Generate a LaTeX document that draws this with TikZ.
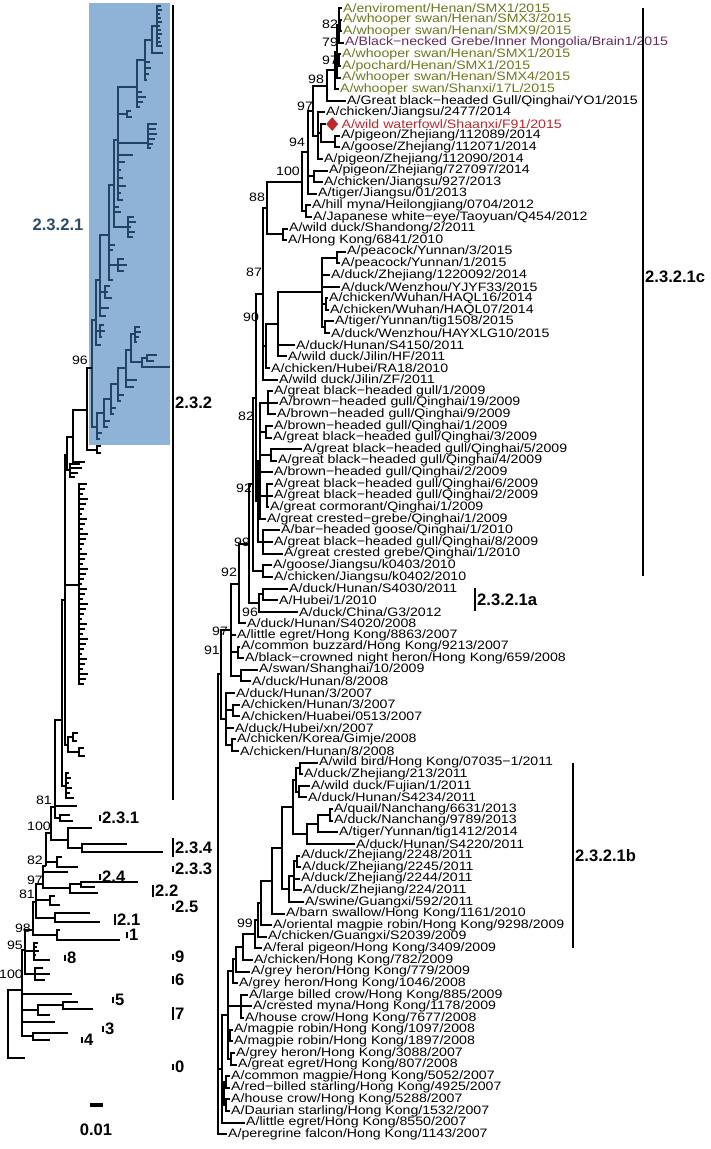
\documentclass[tikz,border=0pt]{standalone}
\usepackage{fontspec}
\setmainfont{Liberation Sans}
\newfontfamily\leaffam[FakeStretch=1.16]{Liberation Sans}
\usepackage{tikz}
\usetikzlibrary{calc,shapes.geometric}
\definecolor{tipGreen}{HTML}{6A7A1E}
\definecolor{tipPurple}{HTML}{6B2A5E}
\definecolor{tipRed}{HTML}{C0272D}
\definecolor{boxBlue}{HTML}{8FB3D6}
\definecolor{boxInk}{HTML}{234363}
\definecolor{labBlue}{HTML}{2B4C6C}
\newcommand\leaffnt{\leaffam\fontsize{12.2}{13}\selectfont}
\newcommand\bsfnt{\leaffam\fontsize{12.2}{13}\selectfont}
\newcommand\clfnt{\fontsize{16.6}{18}\selectfont\bfseries}
\tikzset{
  % branch
  br/.style={line width=2pt,black},
  bb/.style={boxInk},
  % tip labels
  lab/.style={anchor=west,inner sep=0pt,font=\leaffnt},
  gtip/.style={text=tipGreen},
  ptip/.style={text=tipPurple},
  rtip/.style={text=tipRed},
  % bootstrap values
  bs/.style={inner sep=0pt,font=\bsfnt},
  % clade bars and names
  clbar/.style={line width=1.8pt},
  cl/.style={anchor=west,inner sep=2pt,font=\clfnt},
  dia/.style={diamond,fill=tipRed,inner sep=0pt,minimum width=12pt,minimum height=14pt},
}
% leaf: name, tip x, row, text
\newcommand\leaf[5][]{%
  \coordinate (#2) at (#3,{8+(#4-1)*11.61});
  \node[lab,#1] (#2t) at ([xshift=1pt]#2) {#5};}
% clade at the middle of two children
\newcommand\clade[6][]{%
  \coordinate (#2m) at ($(#4)!0.5!(#5)$);
  \coordinate (#2) at (#3,0 |- #2m);
  \foreach \ch in {#6}{\draw[br,#1] (#2) |- (\ch);}}
% clade at a given point
\newcommand\lclade[5][]{%
  \coordinate (#2) at (#3,#4);
  \foreach \ch in {#5}{\draw[br,#1] (#2) |- (\ch);}}
% clade bar with its name
\newcommand\cmark[6][]{%
  \coordinate (#2a) at (#3,#4); \coordinate (#2b) at (#3,#5);
  \draw[clbar,#1] (#2a) -- (#2b);
  \node[cl] (#2) at ($(#2a)!0.5!(#2b)$) {#6};}

\begin{document}
\begin{tikzpicture}[x=1pt,y=-1pt]
\useasboundingbox (0,0) rectangle (710,1149);
\fill[boxBlue] (89,3) rectangle (170,445);

% ---------- right tree, tips
\leaf[gtip]{r1}{342}{1}{A/enviroment/Henan/SMX1/2015}
\leaf[gtip]{r2}{342}{2}{A/whooper swan/Henan/SMX3/2015}
\leaf[gtip]{r3}{342}{3}{A/whooper swan/Henan/SMX9/2015}
\leaf[ptip]{r4}{344}{4}{A/Black−necked Grebe/Inner Mongolia/Brain1/2015}
\leaf[gtip]{r5}{341}{5}{A/whooper swan/Henan/SMX1/2015}
\leaf[gtip]{r6}{341}{6}{A/pochard/Henan/SMX1/2015}
\leaf[gtip]{r7}{341}{7}{A/whooper swan/Henan/SMX4/2015}
\leaf[gtip]{r8}{339}{8}{A/whooper swan/Shanxi/17L/2015}
\leaf{r9}{346}{9}{A/Great black−headed Gull/Qinghai/YO1/2015}
\leaf{r10}{325}{10}{A/chicken/Jiangsu/2477/2014}
\coordinate (r11) at (326,{8+10*11.61});
\node[dia,anchor=west] (r11d) at (r11) {};
\node[lab,rtip] (r11t) at ([xshift=3pt]r11d.east) {A/wild waterfowl/Shaanxi/F91/2015};
\leaf{r12}{340}{12}{A/pigeon/Zhejiang/112089/2014}
\leaf{r13}{340}{13}{A/goose/Zhejiang/112071/2014}
\leaf{r14}{323}{14}{A/pigeon/Zhejiang/112090/2014}
\leaf{r15}{328}{15}{A/pigeon/Zhejiang/727097/2014}
\leaf{r16}{323}{16}{A/chicken/Jiangsu/927/2013}
\leaf{r17}{317}{17}{A/tiger/Jiangsu/01/2013}
\leaf{r18}{311}{18}{A/hill myna/Heilongjiang/0704/2012}
\leaf{r19}{312}{19}{A/Japanese white−eye/Taoyuan/Q454/2012}
\leaf{r20}{288}{20}{A/wild duck/Shandong/2/2011}
\leaf{r21}{287}{21}{A/Hong Kong/6841/2010}
\leaf{r22}{346}{22}{A/peacock/Yunnan/3/2015}
\leaf{r23}{340}{23}{A/peacock/Yunnan/1/2015}
\leaf{r24}{330}{24}{A/duck/Zhejiang/1220092/2014}
\leaf{r25}{340}{25}{A/duck/Wenzhou/YJYF33/2015}
\leaf{r26}{328}{26}{A/chicken/Wuhan/HAQL16/2014}
\leaf{r27}{329}{27}{A/chicken/Wuhan/HAQL07/2014}
\leaf{r28}{334}{28}{A/tiger/Yunnan/tig1508/2015}
\leaf{r29}{330}{29}{A/duck/Wenzhou/HAYXLG10/2015}
\leaf{r30}{295}{30}{A/duck/Hunan/S4150/2011}
\leaf{r31}{287}{31}{A/wild duck/Jilin/HF/2011}
\leaf{r32}{270}{32}{A/chicken/Hubei/RA18/2010}
\leaf{r33}{278}{33}{A/wild duck/Jilin/ZF/2011}
\leaf{r34}{273}{34}{A/great black−headed gull/1/2009}
\leaf{r35}{278}{35}{A/brown−headed gull/Qinghai/19/2009}
\leaf{r36}{276}{36}{A/brown−headed gull/Qinghai/9/2009}
\leaf{r37}{273}{37}{A/brown−headed gull/Qinghai/1/2009}
\leaf{r38}{272}{38}{A/great black−headed gull/Qinghai/3/2009}
\leaf{r39}{302}{39}{A/great black−headed gull/Qinghai/5/2009}
\leaf{r40}{277}{40}{A/great black−headed gull/Qinghai/4/2009}
\leaf{r41}{273}{41}{A/brown−headed gull/Qinghai/2/2009}
\leaf{r42}{273}{42}{A/great black−headed gull/Qinghai/6/2009}
\leaf{r43}{273}{43}{A/great black−headed gull/Qinghai/2/2009}
\leaf{r44}{269}{44}{A/great cormorant/Qinghai/1/2009}
\leaf{r45}{266}{45}{A/great crested−grebe/Qinghai/1/2009}
\leaf{r46}{280}{46}{A/bar−headed goose/Qinghai/1/2010}
\leaf{r47}{273}{47}{A/great black−headed gull/Qinghai/8/2009}
\leaf{r48}{283}{48}{A/great crested grebe/Qinghai/1/2010}
\leaf{r49}{272}{49}{A/goose/Jiangsu/k0403/2010}
\leaf{r50}{273}{50}{A/chicken/Jiangsu/k0402/2010}
\leaf{r51}{288}{51}{A/duck/Hunan/S4030/2011}
\leaf{r52}{278}{52}{A/Hubei/1/2010}
\leaf{r53}{298}{53}{A/duck/China/G3/2012}
\leaf{r54}{246}{54}{A/duck/Hunan/S4020/2008}
\leaf{r55}{236}{55}{A/little egret/Hong Kong/8863/2007}
\leaf{r56}{240}{56}{A/common buzzard/Hong Kong/9213/2007}
\leaf{r57}{244}{57}{A/black−crowned night heron/Hong Kong/659/2008}
\leaf{r58}{258}{58}{A/swan/Shanghai/10/2009}
\leaf{r59}{251}{59}{A/duck/Hunan/8/2008}
\leaf{r60}{235}{60}{A/duck/Hunan/3/2007}
\leaf{r61}{240}{61}{A/chicken/Hunan/3/2007}
\leaf{r62}{240}{62}{A/chicken/Huabei/0513/2007}
\leaf{r63}{234}{63}{A/duck/Hubei/xn/2007}
\leaf{r64}{236}{64}{A/chicken/Korea/Gimje/2008}
\leaf{r65}{239}{65}{A/chicken/Hunan/8/2008}
\leaf{r66}{318}{66}{A/wild bird/Hong Kong/07035−1/2011}
\leaf{r67}{303}{67}{A/duck/Zhejiang/213/2011}
\leaf{r68}{310}{68}{A/wild duck/Fujian/1/2011}
\leaf{r69}{307}{69}{A/duck/Hunan/S4234/2011}
\leaf{r70}{333}{70}{A/quail/Nanchang/6631/2013}
\leaf{r71}{333}{71}{A/duck/Nanchang/9789/2013}
\leaf{r72}{338}{72}{A/tiger/Yunnan/tig1412/2014}
\leaf{r73}{355}{73}{A/duck/Hunan/S4220/2011}
\leaf{r74}{300}{74}{A/duck/Zhejiang/2248/2011}
\leaf{r75}{301}{75}{A/duck/Zhejiang/2245/2011}
\leaf{r76}{300}{76}{A/duck/Zhejiang/2244/2011}
\leaf{r77}{302}{77}{A/duck/Zhejiang/224/2011}
\leaf{r78}{304}{78}{A/swine/Guangxi/592/2011}
\leaf{r79}{285}{79}{A/barn swallow/Hong Kong/1161/2010}
\leaf{r80}{272}{80}{A/oriental magpie robin/Hong Kong/9298/2009}
\leaf{r81}{267}{81}{A/chicken/Guangxi/S2039/2009}
\leaf{r82}{262}{82}{A/feral pigeon/Hong Kong/3409/2009}
\leaf{r83}{253}{83}{A/chicken/Hong Kong/782/2009}
\leaf{r84}{250}{84}{A/grey heron/Hong Kong/779/2009}
\leaf{r85}{238}{85}{A/grey heron/Hong Kong/1046/2008}
\leaf{r86}{248}{86}{A/large billed crow/Hong Kong/885/2009}
\leaf{r87}{252}{87}{A/crested myna/Hong Kong/1178/2009}
\leaf{r88}{244}{88}{A/house crow/Hong Kong/7677/2008}
\leaf{r89}{233}{89}{A/magpie robin/Hong Kong/1097/2008}
\leaf{r90}{233}{90}{A/magpie robin/Hong Kong/1897/2008}
\leaf{r91}{235}{91}{A/grey heron/Hong Kong/3088/2007}
\leaf{r92}{237}{92}{A/great egret/Hong Kong/807/2008}
\leaf{r93}{230}{93}{A/common magpie/Hong Kong/5052/2007}
\leaf{r94}{230}{94}{A/red−billed starling/Hong Kong/4925/2007}
\leaf{r95}{230}{95}{A/house crow/Hong Kong/5288/2007}
\leaf{r96}{230}{96}{A/Daurian starling/Hong Kong/1532/2007}
\leaf{r97}{245}{97}{A/little egret/Hong Kong/8550/2007}
\leaf{r98}{227}{98}{A/peregrine falcon/Hong Kong/1143/2007}

% ---------- right tree, clades
\clade{g82}{340}{r2}{r3}{r2,r3}
\clade{g79}{339}{r1}{r4}{r1,g82,r4}
\clade{g97}{339}{r5}{r6}{r5,r6}
\clade{gx}{337}{g79}{r7}{g79,g97,r7}
\clade{gr}{335}{gx}{r8}{gx,r8}
\clade{n98}{327}{gr}{r9}{gr,r9}
\clade{npp}{335}{r12}{r13}{r12,r13}
\clade{nw}{321}{r11}{npp}{r11,npp}
\clade{nch}{318}{r10}{r14}{r10,nw,r14}
\clade{n97}{313}{n98}{nch}{n98,nch}
\clade{npz}{314}{r15}{r16}{r15,r16}
\clade{n94}{308}{n97}{r17}{n97,npz,r17}
\clade{nhl}{306}{r18}{r19}{r18,r19}
\clade{n100}{302}{n94}{nhl}{n94,nhl}
\clade{nwd}{283}{r20}{r21}{r20,r21}
\clade{n88}{267}{n100}{nwd}{n100,nwd}
\clade{npe}{337}{r22}{r23}{r22,r23}
\clade{nhq}{326}{r26}{r27}{r26,r27}
\clade{ntg}{325}{r28}{r29}{r28,r29}
\clade{nyn}{322}{npe}{ntg}{npe,r24,r25,nhq,ntg}
\clade{np1}{278}{nyn}{r31}{nyn,r30,r31}
\clade{n90}{266}{np1}{r32}{np1,r32}
\clade{n87}{263}{n88}{r33}{n88,n90,r33}
\clade{nqa}{268}{r34}{r36}{r34,r35,r36}
\clade{nqb}{266}{r37}{r38}{r37,r38}
\clade{nqc}{271}{r39}{r40}{r39,r40}
\clade{nqd}{267}{r42}{r44}{r42,r43,r44}
\clade{nq}{260}{nqa}{r45}{nqa,nqb,nqc,r41,nqd,r45}
\clade{nqe}{263}{r46}{r48}{r46,r47,r48}
\clade{n92a}{258}{nq}{nqe}{nq,nqe}
\clade{n82}{256}{n87}{n92a}{n87,n92a}
\clade{njk}{263}{r49}{r50}{r49,r50}
\clade{n99}{253}{n82}{njk}{n82,njk}
\clade{na1}{263}{r51}{r52}{r51,r52}
\clade{n96}{259}{na1}{r53}{na1,r53}
\clade{nx}{249}{n99}{n96}{n99,n96}
\clade{n92b}{239}{nx}{r54}{nx,r54}
\clade{ncb}{238}{r56}{r57}{r56,r57}
\clade{nsw}{241}{r58}{r59}{r58,r59}
\clade{n97b}{231}{n92b}{nsw}{n92b,r55,ncb,nsw}
\clade{nh2}{233}{r61}{r62}{r61,r62}
\clade{nh3}{232}{r64}{r65}{r64,r65}
\clade{nhn}{226}{r60}{nh3}{r60,nh2,r63,nh3}
\clade{n91}{221}{n97b}{nhn}{n97b,nhn}
\clade{nwb}{300}{r66}{r67}{r66,r67}
\clade{nfj}{299}{r68}{r69}{r68,r69}
\clade{nz1}{296}{nwb}{nfj}{nwb,nfj}
\clade{nnc}{330}{r70}{r71}{r70,r71}
\clade{ntk}{318}{nnc}{r72}{nnc,r72}
\clade{nhs}{307}{ntk}{r73}{ntk,r73}
\clade{nz2}{293}{nz1}{nhs}{nz1,nhs}
\clade{nj1}{297}{r74}{r75}{r74,r75}
\clade{nj2}{294}{nj1}{r77}{nj1,r76,r77}
\clade{nj}{289}{nj2}{r78}{nj2,r78}
\clade{nb1}{282}{nz2}{nj}{nz2,nj}
\clade{nb2}{272}{nb1}{r79}{nb1,r79}
\clade{nb3}{261}{nb2}{r80}{nb2,r80}
\clade{nb4}{258}{nb3}{r81}{nb3,r81}
\clade{nb5}{255}{nb4}{r82}{nb4,r82}
\clade{nb6}{243}{nb5}{r83}{nb5,r83}
\clade{nka}{236}{nb6}{r84}{nb6,r84}
\clade{nkb}{233}{nka}{r85}{nka,r85}
\clade{ncr}{241}{r86}{r88}{r86,r87,r88}
\clade{nmr}{230}{r89}{r90}{r89,r90}
\clade{nge}{231}{r91}{r92}{r91,r92}
\clade{ns1}{226}{r93}{r94}{r93,r94}
\clade{ns2}{226}{r95}{r96}{r95,r96}
\clade{nst}{224}{ns1}{ns2}{ns1,ns2}
\clade{nhk}{228}{nkb}{nge}{nkb,ncr,nmr,nge}
\clade{nlo}{222}{nhk}{r97}{nhk,nst,r97}
\clade{nrt}{218}{n91}{r98}{n91,nlo,r98}

% bootstrap values, right tree
\node[bs] (s1) at (330,24) {82};
\node[bs] (s2) at (330,42) {79};
\node[bs] (s3) at (330,60) {97};
\node[bs] (s4) at (316,79) {98};
\node[bs] (s5) at (305,106) {97};
\node[bs] (s6) at (297,142) {94};
\node[bs] (s7) at (288,171) {100};
\node[bs] (s8) at (257,197) {88};
\node[bs] (s9) at (254,272) {87};
\node[bs] (s10) at (251,317) {90};
\node[bs] (s11) at (246,416) {82};
\node[bs] (s12) at (244,488) {92};
\node[bs] (s13) at (242,542) {99};
\node[bs] (s14) at (229,572) {92};
\node[bs] (s15) at (250,612) {96};
\node[bs] (s16) at (220,631) {97};
\node[bs] (s17) at (212,650) {91};
\node[bs] (s18) at (245,923) {99};

% clade bars, right tree
\coordinate (mca) at (643,8); \coordinate (mcb) at (643,576);
\draw[clbar] (mca) -- (mcb);
\node[cl] (mc) at (643,277) {2.3.2.1c};
\cmark{ma}{475}{588}{611}{2.3.2.1a}
\cmark{mb}{573}{763}{948}{2.3.2.1b}

% ---------- left tree, 2.3.2.1 in the box
\coordinate (ua) at (157,26);
\foreach \yy [count=\k] in {6,10,...,46} {
  \coordinate (ut\k) at ({160+mod(\k,3)},\yy);
  \draw[br,bb] (ua) |- (ut\k);}
\coordinate (ub1) at (163,53);
\lclade[bb]{ub}{152}{40}{ua,ub1}
\coordinate (uc1) at (150,62); \coordinate (uc2) at (151,68);
\coordinate (uc3) at (149,74); \coordinate (uc4) at (147,80);
\lclade[bb]{uc}{145}{60}{ub,uc1,uc2,uc3,uc4}
\coordinate (ud1) at (142,92); \coordinate (ud2) at (146,97);
\coordinate (ud3) at (143,102); \coordinate (ud4) at (140,107);
\lclade[bb]{ud}{137}{87}{uc,ud1,ud2,ud3,ud4}
\coordinate (ue1) at (131,111); \coordinate (ue2) at (132,117);
\lclade[bb]{ue}{127}{114}{ue1,ue2}
\coordinate (uf1) at (157,124); \coordinate (uf2) at (156,129);
\coordinate (uf3) at (157,134); \coordinate (uf4) at (155,139);
\coordinate (uf5) at (153,144); \coordinate (uf6) at (151,148);
\lclade[bb]{uf}{148}{143}{uf1,uf2,uf3,uf4,uf5,uf6}
\coordinate (ug1) at (133,155); \coordinate (ug2) at (125,162);
\coordinate (ug3) at (121,170); \coordinate (ug4) at (123,178);
\coordinate (ug5) at (126,186); \coordinate (ug6) at (121,193);
\coordinate (ug7) at (123,200);
\lclade[bb]{ug}{118}{140}{ud,ue,uf,ug1,ug2,ug3,ug4,ug5,ug6,ug7}
\coordinate (uh1) at (134,217); \coordinate (uh2) at (136,222);
\coordinate (uh3) at (131,227); \coordinate (uh4) at (135,232);
\coordinate (uh5) at (133,237);
\lclade[bb]{uh}{128}{227}{uh1,uh2,uh3,uh4,uh5}
\coordinate (ui1) at (119,207); \coordinate (ui2) at (121,212);
\lclade[bb]{ui}{114}{185}{ug,ui1,ui2,uh}
\coordinate (uj1) at (124,259); \coordinate (uj2) at (127,265);
\coordinate (uj3) at (124,271);
\lclade[bb]{uj}{118}{265}{uj1,uj2,uj3}
\coordinate (uk1) at (115,245); \coordinate (uk2) at (113,250);
\coordinate (uk3) at (113,280);
\lclade[bb]{uk}{109}{235}{ui,uk1,uk2,uj,uk3}
\coordinate (ul1) at (110,286); \coordinate (ul2) at (108,292);
\coordinate (ul3) at (112,298);
\lclade[bb]{ul}{105}{292}{ul1,ul2,ul3}
\coordinate (um1) at (109,308); \coordinate (um2) at (106,316);
\lclade[bb]{um}{100}{280}{uk,ul,um1,um2}
\coordinate (un1) at (104,325); \coordinate (un2) at (105,331);
\coordinate (un3) at (102,337);
\lclade[bb]{un}{100}{331}{un1,un2,un3}
\coordinate (uo1) at (101,345);
\lclade[bb]{uo}{96}{320}{um,un,uo1}
\coordinate (va1) at (140,327); \coordinate (va2) at (141,332);
\coordinate (va3) at (139,337); \coordinate (va4) at (137,342);
\lclade[bb]{va}{135}{334}{va1,va2,va3,va4}
\coordinate (vb1) at (157,355); \coordinate (vb2) at (154,361);
\lclade[bb]{vb}{147}{358}{vb1,vb2}
\coordinate (vc1) at (170,367);
\lclade[bb]{vc}{142}{362}{vb,vc1}
\lclade[bb]{vd}{131}{350}{va,vc}
\coordinate (ve1) at (137,380); \coordinate (ve2) at (134,387);
\lclade[bb]{ve}{126}{368}{vd,ve1,ve2}
\coordinate (vf1) at (124,395); \coordinate (vf2) at (121,401);
\lclade[bb]{vf}{118}{384}{ve,vf1,vf2}
\coordinate (vg1) at (116,408); \coordinate (vg2) at (114,414);
\lclade[bb]{vg}{111}{399}{vf,vg1,vg2}
\coordinate (vh1) at (110,421); \coordinate (vh2) at (108,427);
\lclade[bb]{vh}{104}{413}{vg,vh1,vh2}
\coordinate (vi1) at (102,433); \coordinate (vi2) at (100,439);
\lclade[bb]{vi}{97}{427}{vh,vi1,vi2}
\lclade[bb]{uroot}{92}{368}{uo,vi}

% ---------- left tree, rest of 2.3.2
\coordinate (wa1) at (101,446); \coordinate (wa2) at (101,453);
\lclade{wa}{97}{450}{wa1,wa2}
\lclade{wb}{87}{410}{uroot,wa}
\coordinate (wc1) at (85,462);
\lclade{wc}{73}{437}{wb,wc1}
\coordinate (wd1) at (80,464); \coordinate (wd2) at (82,468);
\coordinate (wd3) at (78,473); \coordinate (wd4) at (75,477);
\lclade{wd}{70}{470}{wd1,wd2,wd3,wd4}
\lclade{we}{67}{455}{wc,wd}
\coordinate (wf) at (79,585);
\foreach \yy [count=\k] in {484,489,...,684} {
  \coordinate (wt\k) at ({82+mod(\k*5,7)},\yy);
  \draw[br] (wf) |- (wt\k);}
\coordinate (wg1a) at (78,733); \coordinate (wg1b) at (77,741);
\lclade{wg1}{73}{737}{wg1a,wg1b}
\coordinate (wg2a) at (84,748); \coordinate (wg2b) at (85,756);
\lclade{wg2}{79}{752}{wg2a,wg2b}
\lclade{wg}{68}{745}{wg1,wg2}
\lclade{wh}{65}{600}{we,wf,wg}
\coordinate (wi1) at (69,773); \coordinate (wi2) at (71,778);
\coordinate (wi3) at (69,783); \coordinate (wi4) at (72,788);
\coordinate (wi5) at (70,793); \coordinate (wi6) at (74,798);
\lclade{wi}{66}{786}{wi1,wi2,wi3,wi4,wi5,wi6}
\lclade{wj}{62}{720}{wh,wi}

% ---------- left tree, other clades
\coordinate (xa1) at (77,806);
\coordinate (xb1) at (70,815); \coordinate (xb2) at (73,821);
\lclade{xb}{60}{818}{xb1,xb2}
\lclade{xa}{55}{807}{wj,xa1,xb}
\coordinate (xc1) at (92,828);
\coordinate (xd1) at (127,844); \coordinate (xd2) at (163,852);
\lclade{xd}{82}{848}{xd1,xd2}
\lclade{xc}{68}{840}{xc1,xd}
\lclade{xhund}{51}{833}{xa,xc}
\coordinate (xe1) at (62,857); \coordinate (xe2) at (78,867);
\lclade{xe}{57}{862}{xe1,xe2}
\lclade{xeb}{46}{866}{xhund,xe}
\coordinate (xf1) at (68,872);
\coordinate (xg1) at (138,882); \coordinate (xg2) at (95,887);
\lclade{xg}{81}{884}{xg1,xg2}
\coordinate (xh1) at (98,893);
\lclade{xh}{70}{888}{xg,xh1}
\lclade{xns}{43}{884}{xeb,xf1,xh}
\coordinate (xi1) at (55,896); \coordinate (xi2) at (60,905);
\lclade{xi}{50}{900}{xi1,xi2}
\coordinate (xj1) at (90,913); \coordinate (xj2) at (100,922);
\lclade{xj}{55}{918}{xj1,xj2}
\lclade{xeo}{36}{902}{xns,xi,xj}
\coordinate (xk1) at (60,930); \coordinate (xk2) at (120,940);
\lclade{xk}{57}{935}{xk1,xk2}
\lclade{xne}{33}{930}{xeo,xk}
\coordinate (xl1) at (38,943); \coordinate (xl2) at (37,947);
\coordinate (xl3) at (39,951); \coordinate (xl4) at (36,955);
\coordinate (xl5) at (50,960);
\lclade{xl}{34}{951}{xl1,xl2,xl3,xl4,xl5}
\coordinate (xm1) at (43,968); \coordinate (xm2) at (50,974);
\coordinate (xm3) at (45,980);
\lclade{xm}{35}{974}{xm1,xm2,xm3}
\lclade{xnf}{25}{950}{xne,xl,xm}
\coordinate (xn1) at (72,994);
\coordinate (xo1) at (78,1002); \coordinate (xo2) at (93,1009);
\lclade{xo}{63}{1005}{xo1,xo2}
\coordinate (xp1) at (50,1015);
\lclade{xp}{38}{1010}{xo,xp1}
\coordinate (xq1) at (55,1022);
\coordinate (xr1) at (68,1033); \coordinate (xr2) at (50,1040);
\lclade{xr}{33}{1036}{xr1,xr2}
\lclade{xtop}{22}{990}{xnf,xn1,xp,xq1,xr}
\coordinate (xs1) at (25,1058);
\lclade{xroot}{8}{1030}{xtop,xs1}

% bootstrap values, left tree
\node[bs] (t1) at (80,360) {96};
\node[bs] (t2) at (44,800) {81};
\node[bs] (t3) at (39,826) {100};
\node[bs] (t4) at (35,860) {82};
\node[bs] (t5) at (35,880) {97};
\node[bs] (t6) at (27,894) {81};
\node[bs] (t7) at (23,928) {98};
\node[bs] (t8) at (15,945) {95};
\node[bs] (t9) at (11,974) {100};

% clade bars, left tree
\coordinate (m232a) at (173,5); \coordinate (m232b) at (173,800);
\draw[line width=1.2pt] (m232a) -- (m232b);
\node[cl] (m232) at (173,403) {2.3.2};
\node[cl,anchor=center,text=labBlue] (m2321) at (58,225) {2.3.2.1};
\cmark{m231}{100}{815}{821}{2.3.1}
\cmark{m234}{173}{838}{857}{2.3.4}
\cmark{m233}{173}{866}{872}{2.3.3}
\cmark{m24}{100}{874}{880}{2.4}
\cmark{m22}{153}{885}{897}{2.2}
\cmark{m25}{173}{904}{910}{2.5}
\cmark{m21}{115}{914}{925}{2.1}
\cmark{m1}{127}{932}{938}{1}
\cmark{m9}{173}{954}{960}{9}
\cmark{m8}{65}{955}{961}{8}
\cmark{m6}{173}{976}{984}{6}
\cmark{m5}{113}{997}{1003}{5}
\cmark{m7}{173}{1007}{1020}{7}
\cmark{m3}{103}{1026}{1032}{3}
\cmark{m4}{82}{1037}{1043}{4}
\cmark{m0}{173}{1064}{1070}{0}

% scale bar
\coordinate (sb1) at (90,1105); \coordinate (sb2) at (103,1105);
\draw[line width=4pt] (sb1) -- (sb2);
\node[font=\clfnt,inner sep=0pt] (sbl) at (96,1130) {0.01};
\end{tikzpicture}
\end{document}
